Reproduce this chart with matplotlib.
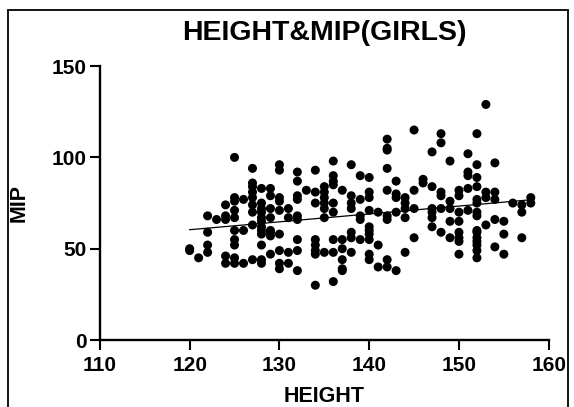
import matplotlib
matplotlib.use("Agg")
import matplotlib.pyplot as plt
from matplotlib.patches import Rectangle

plt.rcParams['font.family'] = ['Liberation Sans', 'DejaVu Sans']
plt.rcParams['font.weight'] = 'bold'

# heights (cm) and the MIP values measured at each height
heights = [120, 121, 122, 123, 124, 125, 126, 127, 128, 129,
           130, 131, 132, 133, 134, 135, 136, 137, 138, 139,
           140, 141, 142, 143, 144, 145, 146, 147, 148, 149,
           150, 151, 152, 153, 154, 155, 156, 157, 158]
mip_by_height = [
    [50, 49],
    [45],
    [68, 59, 52, 48],
    [66],
    [74, 68, 66, 46, 42],
    [100, 78, 76, 71, 67, 60, 55, 52, 45, 42],
    [77, 60, 42],
    [94, 86, 84, 81, 78, 74, 70, 63, 44],
    [83, 75, 72, 70, 67, 65, 62, 60, 58, 52, 44, 42],
    [83, 79, 72, 67, 60, 59, 57, 47],
    [96, 93, 78, 76, 71, 58, 49, 42, 39],
    [72, 67, 48, 42],
    [92, 87, 79, 77, 68, 66, 55, 49, 38],
    [82],
    [93, 81, 75, 55, 52, 49, 47, 30],
    [84, 81, 78, 75, 72, 67, 48],
    [98, 90, 87, 85, 75, 70, 55, 48, 32],
    [82, 55, 50, 44, 39, 38],
    [96, 79, 75, 72, 59, 56, 48],
    [90, 77, 68, 66, 55],
    [89, 81, 78, 71, 62, 60, 58, 55, 47, 44],
    [70, 52, 40],
    [110, 105, 104, 94, 82, 68, 66, 44, 40],
    [87, 80, 78, 70, 38],
    [78, 75, 72, 67, 48],
    [115, 82, 72, 56],
    [88, 86],
    [103, 84, 72, 70, 67, 62],
    [113, 108, 81, 79, 72, 59],
    [98, 76, 72, 65, 56],
    [82, 79, 70, 65, 59, 56, 54, 47],
    [102, 92, 90, 83, 71],
    [113, 96, 89, 84, 77, 75, 70, 68, 60, 59, 56, 54, 52, 49, 45],
    [129, 81, 78, 63],
    [97, 81, 77, 66, 51],
    [65, 58, 47],
    [75],
    [74, 70, 56],
    [78, 75],
]

# linear fit line as drawn in the chart
fit_x = [120, 158]
fit_y = [60.4, 76.8]

x_vals = []
y_vals = []
for h, vals in zip(heights, mip_by_height):
    for v in vals:
        x_vals.append(h)
        y_vals.append(v)

fig = plt.figure(figsize=(5.74, 4.07), dpi=100)
ax = fig.add_axes([0.174, 0.1646, 0.782, 0.673])

ax.scatter(x_vals, y_vals, s=42, color='black', edgecolors='none', zorder=3)
ax.plot(fit_x, fit_y, color='black', linewidth=0.9, zorder=2)

ax.set_xlim(110, 160)
ax.set_ylim(0, 150)
ax.set_xticks([110, 120, 130, 140, 150, 160])
ax.set_yticks([0, 50, 100, 150])

for side in ['top', 'right']:
    ax.spines[side].set_visible(False)
for side in ['left', 'bottom']:
    ax.spines[side].set_linewidth(1.7)

ax.tick_params(axis='both', length=7.5, width=1.5, labelsize=15)
ax.tick_params(axis='x', pad=4)
ax.tick_params(axis='y', pad=2)

ax.set_title('HEIGHT&MIP(GIRLS)', fontsize=20.5, fontweight='bold', pad=19)
ax.set_xlabel('HEIGHT', fontsize=15.5, fontweight='bold', labelpad=8)
ax.set_ylabel('MIP', fontsize=15.5, fontweight='bold', labelpad=16)

# frame around the whole picture
fig.patches.append(Rectangle((8 / 574, -0.05), 560 / 574, 1.05 - 10 / 407,
                             transform=fig.transFigure, fill=False,
                             edgecolor='black', linewidth=1.3))

fig.savefig('out.png', dpi=100)
